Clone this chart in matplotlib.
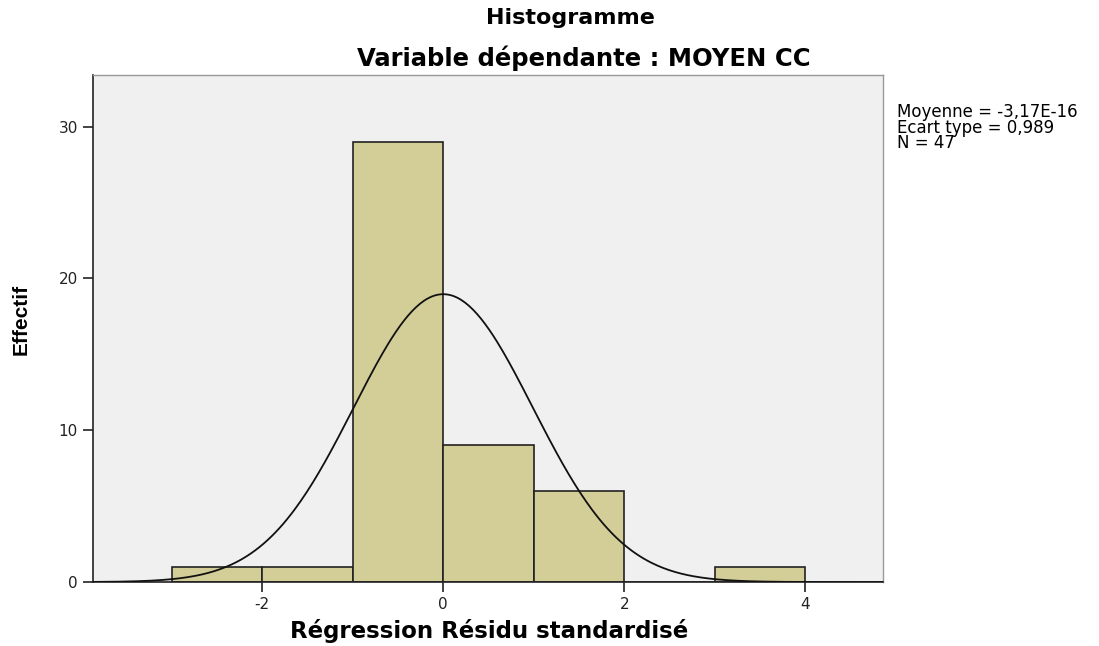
import numpy as np
import matplotlib
matplotlib.use("Agg")
import matplotlib.pyplot as plt

bin_edges = [-3, -2, -1, 0, 1, 2, 3, 4]
counts = [1, 1, 29, 9, 6, 0, 1]
mean = -3.17e-16
sd = 0.989
n = 47
xticks = [-2, 0, 2, 4]
yticks = [0, 10, 20, 30]

plt.rcParams['font.family'] = ['DejaVu Sans']

fig = plt.figure(figsize=(10.99, 6.46), dpi=100)
ax = fig.add_axes([0.0846, 0.099, 0.719, 0.785])
ax.set_facecolor('#f0f0f0')

lefts = bin_edges[:-1]
widths = np.diff(bin_edges)
ax.bar(lefts, counts, width=widths, align='edge', color='#d3ce97',
       edgecolor='#222222', linewidth=1.2, zorder=2)

xs = np.linspace(-3.87, 4.86, 400)
ys = n * 1.0 * np.exp(-0.5 * ((xs - mean) / sd) ** 2) / (sd * np.sqrt(2 * np.pi))
ax.plot(xs, ys, color='#111111', linewidth=1.3, zorder=3)

ax.set_xlim(-3.87, 4.86)
ax.set_ylim(0, 33.4)
ax.set_xticks(xticks)
ax.set_xticklabels([str(v) for v in xticks])
ax.set_yticks(yticks)
ax.tick_params(direction='out', length=7, width=1.2, labelsize=11, colors='#222222', pad=4)
for s in ['left', 'bottom']:
    ax.spines[s].set_color('#222222')
    ax.spines[s].set_linewidth(1.2)
for s in ['top', 'right']:
    ax.spines[s].set_color('#999999')
    ax.spines[s].set_linewidth(1.0)

fig.text(0.445, 0.0124, 'Régression Résidu standardisé', fontsize=16.5, fontweight='bold',
         ha='center', va='baseline')
fig.text(0.019, 0.505, 'Effectif', rotation=90, fontsize=15, fontweight='bold',
         family=['Liberation Sans Narrow', 'Liberation Sans', 'DejaVu Sans'],
         ha='center', va='center')

fig.text(0.519, 0.972, 'Histogramme', fontsize=16, fontweight='bold', ha='center', va='center')
fig.text(0.531, 0.91, 'Variable dépendante : MOYEN CC', fontsize=17.5, fontweight='bold',
         ha='center', va='center')

fig.text(0.816, 0.84, 'Moyenne = -3,17E-16\nEcart type = 0,989\nN = 47',
         fontsize=12, ha='left', va='top', linespacing=0.8)

fig.savefig('out.png', dpi=100)
